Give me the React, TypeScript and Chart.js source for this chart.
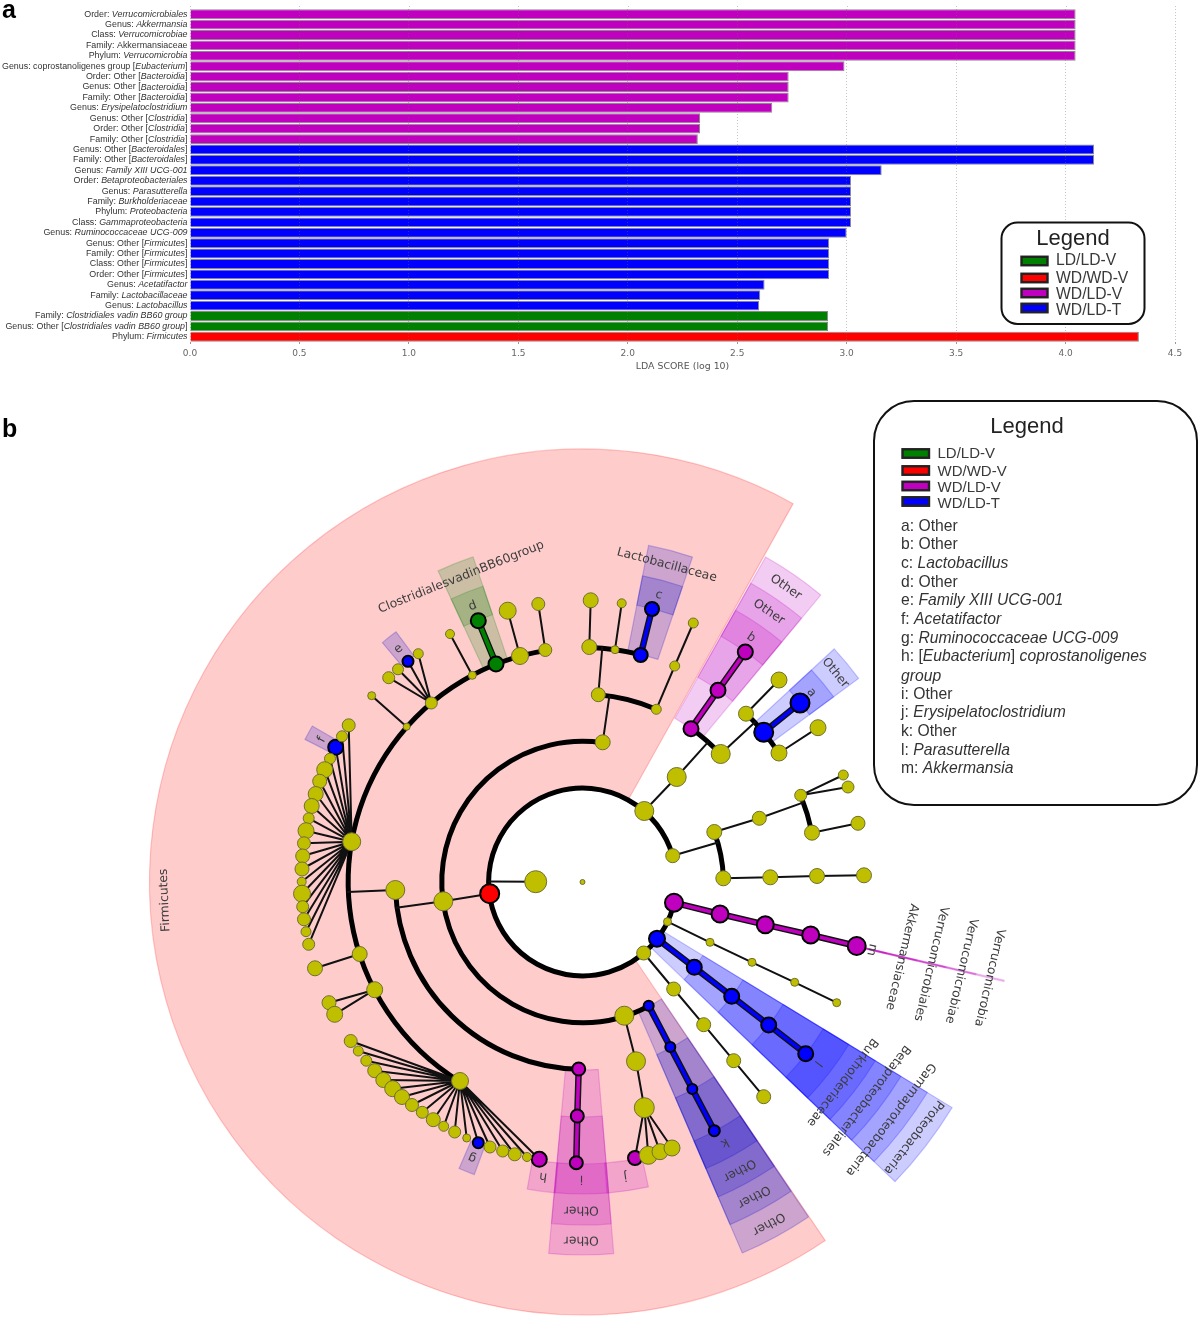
import React, { useEffect, useRef } from "react";
import { Chart, registerables } from "chart.js";

Chart.register(...registerables);

// ---------- panel a data ("|" toggles italic) ----------
const barLabels = [
  "Order: |Verrucomicrobiales", "Genus: |Akkermansia", "Class: |Verrucomicrobiae", "Family: Akkermansiaceae",
  "Phylum: |Verrucomicrobia", "Genus: coprostanoligenes group [|Eubacterium|]", "Order: Other [|Bacteroidia|]",
  "Genus: Other [|Bacteroidia|]", "Family: Other [|Bacteroidia|]", "Genus: |Erysipelatoclostridium",
  "Genus: Other [|Clostridia|]", "Order: Other [|Clostridia|]", "Family: Other [|Clostridia|]",
  "Genus: Other [|Bacteroidales|]", "Family: Other [|Bacteroidales|]", "Genus: |Family XIII UCG-001",
  "Order: |Betaproteobacteriales", "Genus: |Parasutterella", "Family: |Burkholderiaceae", "Phylum: |Proteobacteria",
  "Class: |Gammaproteobacteria", "Genus: |Ruminococcaceae UCG-009", "Genus: Other [|Firmicutes|]",
  "Family: Other [|Firmicutes|]", "Class: Other [|Firmicutes|]", "Order: Other [|Firmicutes|]",
  "Genus: |Acetatifactor", "Family: |Lactobacillaceae", "Genus: |Lactobacillus",
  "Family: |Clostridiales vadin BB60 group", "Genus: Other [|Clostridiales vadin BB60 group|]", "Phylum: |Firmicutes",
];
const barValues = [
  4.046, 4.046, 4.046, 4.046, 4.046, 2.99, 2.735, 2.735, 2.735, 2.66, 2.33, 2.33, 2.32,
  4.13, 4.13, 3.16, 3.02, 3.02, 3.02, 3.02, 3.02, 3.0, 2.92, 2.92, 2.92, 2.92, 2.625, 2.605, 2.6,
  2.915, 2.915, 4.335,
];
const barGroups = [
  "WD/LD-V", "WD/LD-V", "WD/LD-V", "WD/LD-V", "WD/LD-V", "WD/LD-V", "WD/LD-V", "WD/LD-V", "WD/LD-V", "WD/LD-V", "WD/LD-V", "WD/LD-V", "WD/LD-V",
  "WD/LD-T", "WD/LD-T", "WD/LD-T", "WD/LD-T", "WD/LD-T", "WD/LD-T", "WD/LD-T", "WD/LD-T", "WD/LD-T", "WD/LD-T", "WD/LD-T", "WD/LD-T", "WD/LD-T", "WD/LD-T", "WD/LD-T", "WD/LD-T",
  "LD/LD-V", "LD/LD-V", "WD/WD-V",
];
const groupNames = ["LD/LD-V", "WD/WD-V", "WD/LD-V", "WD/LD-T"];
const groupColors = ["#008000", "#FF0000", "#BF00BF", "#0000FF"];

// ---------- panel b data: tree nodes [id, x, y, size], origin at the tree root ----------
const yellowNodes: any[] = [
  ["root", 0, 0, 2.5], ["n01", -46.8, 0.3, 11], ["P1", 61.8, 71, 9.5], ["P2", 90.2, 26.3, 7], ["P3", 85, -39.7, 4], ["P4", 61.2, -71, 7],
  ["A2", 94.2, 105, 9.5], ["A3", 138.2, 128, 9.5], ["A4", 163.5, 168.3, 7.5], ["A5", 196.5, 129, 8], ["A6", 196.5, 202, 8], ["A7", 235.5, 154.3, 8],
  ["C1", 131.8, 50, 7.5], ["C2", 140.8, 3.7, 7.5], ["C3", 176.8, 63.7, 7], ["C4", 187.8, 4.7, 7.5], ["C5", 234.5, 6, 7.5], ["C6", 281.5, 6.7, 7.5],
  ["C7", 218.2, 86.7, 6], ["C8", 229.5, 49.3, 7.5], ["C9", 260.8, 107, 5], ["C10", 265.5, 95, 6], ["C11", 275.5, 58.7, 7],
  ["V1", 127.5, -60.3, 4], ["V2", 169.5, -80.3, 4], ["V3", 212.2, -100.3, 4], ["V4", 254.2, -120.7, 4],
  ["Y1", 91.2, -107, 7], ["Y2", 121.2, -142.7, 7], ["Y3", 151.2, -178.7, 7], ["Y4", 181.2, -214.7, 7],
  ["F2", -139.2, -19.3, 9.5], ["F3", -187.2, -8, 9.5], ["G2", 41.8, -133.7, 9.5], ["G3", 53.5, -179.3, 9.5], ["G4", 61.8, -225.7, 10],
  ["G5", 65.8, -273.3, 9], ["G6", 77.5, -269.7, 8], ["G7", 89.5, -266, 8],
  ["T2", 20.2, 139.7, 7.5], ["T3", 15.8, 187.3, 7], ["T3b", 73.8, 172.7, 5], ["T4a", 6.8, 235, 7.5], ["T4b", 32.5, 232.3, 4], ["T4c", 92.2, 216, 5],
  ["T5a", 8.2, 281.7, 7.5], ["T5b", 39.2, 278.7, 4.5], ["T5c", 110.8, 259, 5],
  ["S9", -37.2, 232, 6.5], ["S8", -62.5, 226, 8.5], ["S7", -110.2, 206.7, 4], ["S6", -151.2, 179, 6], ["S5", -175.8, 155.3, 3.5],
  ["H1", -230.8, 40.3, 9], ["S4", -222.8, -72, 7.5], ["S3", -207.8, -107.7, 8], ["H2", -122.5, -199, 8.5],
  ["L9", -44.2, 278, 6.5], ["L8", -74.8, 271.3, 8.5], ["L7", -132.5, 248, 4.5], ["E1", -164.2, 228.3, 5], ["E3", -184.5, 212.7, 5.5], ["E4", -193.8, 204.3, 6], ["L5", -210.8, 186.3, 4],
  ["Ha", -233.8, 156.7, 6.5], ["Hb", -240.5, 145.7, 5.5], ["Hc", -252.5, 123.3, 5.5], ["Hd", -257.8, 112.3, 8], ["He", -262.8, 100.7, 7], ["Hf", -266.8, 88, 7.5],
  ["Hg", -270.8, 76, 7.5], ["Hh", -273.8, 63.7, 5.5], ["Hi", -276.5, 51.3, 8], ["Hj", -278.5, 38.7, 6.5], ["Hk", -279.8, 26, 7], ["Hl", -280.5, 13, 7],
  ["Hm", -280.8, 0.3, 4.5], ["Hn", -280.5, -11.7, 8.5], ["Ho", -279.8, -24.7, 6], ["Hp", -278.5, -37.3, 6.5], ["Hq", -276.5, -49.7, 5], ["Hr", -273.8, -62.3, 6],
  ["S4a", -267.5, -86.3, 7.5], ["S3a", -253.5, -120.7, 7], ["S3b", -247.8, -132.3, 8],
  ["Ia", -231.8, -159, 6.5], ["Ib", -224.2, -169, 5], ["Ic", -216.2, -178.7, 5.5], ["Id", -207.8, -188.7, 7], ["Ie", -199.2, -198, 7.5], ["If", -189.8, -206.7, 8],
  ["Ig", -180.5, -215, 7.5], ["Ih", -170.5, -223, 6.5], ["Ii", -160.2, -230.3, 6], ["Ij", -149.2, -237.7, 7], ["Ik", -138.8, -244.3, 5], ["Il", -127.8, -250, 6],
  ["Im", -115.8, -256, 4], ["In", -92.5, -265, 6], ["Io", -79.8, -269, 6], ["Ip", -67.8, -272.3, 6.5], ["Iq", -55.5, -275, 4.5],
];
const redNodes: any[] = [["red", -92.8, -11.7, 9.5]];
const greenNodes: any[] = [["d1", -86.5, 218, 7.5], ["d2", -104.2, 261.3, 7.5]];
const magentaNodes: any[] = [
  ["b1", 108.5, 153.3, 7.5], ["b2", 135.5, 191.7, 7.5], ["b3", 162.8, 230, 7.5],
  ["m1", 91.5, -20.7, 9], ["m2", 137.5, -32, 8.5], ["m3", 182.8, -42.7, 8.5], ["m4", 228.2, -53, 8.5], ["m5", 274.2, -64, 9],
  ["i1", -3.8, -187, 6.5], ["i2", -5.2, -234, 6.5], ["i3", -6.2, -280.7, 6.5], ["j1", 52.5, -276, 7], ["h1", -43.2, -277.3, 7.5],
];
const blueNodes: any[] = [
  ["a1", 181.2, 149.7, 9.5], ["a2", 217.5, 179, 9.5], ["c1", 58.2, 227, 7], ["c2", 69.5, 273, 7],
  ["l1", 74.5, -56.7, 8], ["l2", 111.8, -85.3, 7.5], ["l3", 149.2, -114.3, 7.5], ["l4", 186.2, -143, 7.5], ["l5", 223.2, -171.7, 7.5],
  ["k1", 66.2, -123.7, 5], ["k2", 87.8, -165, 5], ["k3", 109.8, -207, 5], ["k4", 131.8, -248.7, 5.5],
  ["e1", -174.5, 220.7, 5.5], ["f1", -246.8, 134.7, 7.5], ["g1", -104.2, -260.7, 5.5],
];
const hub1Children = ["Ha", "Hb", "f1", "Hc", "Hd", "He", "Hf", "Hg", "Hh", "Hi", "Hj", "Hk", "Hl", "Hm", "Hn", "Ho", "Hp", "Hq", "Hr"];
const hub2Children = ["Ia", "Ib", "Ic", "Id", "Ie", "If", "Ig", "Ih", "Ii", "Ij", "Ik", "Il", "Im", "g1", "In", "Io", "Ip", "Iq", "h1"];
const thinEdges: any[] = [
  ["P1", "A2"], ["A4", "A6"], ["A5", "A7"], ["C1", "C3"], ["C2", "C4"], ["C4", "C5"], ["C5", "C6"], ["C7", "C9"], ["C7", "C10"], ["C8", "C11"],
  ["P3", "V1"], ["V1", "V2"], ["V2", "V3"], ["V3", "V4"], ["P4", "Y1"], ["Y1", "Y2"], ["Y2", "Y3"], ["Y3", "Y4"],
  ["red", "F2"], ["G2", "G3"], ["G3", "G4"], ["G4", "j1"], ["G4", "G5"], ["G4", "G6"], ["G4", "G7"],
  ["T3b", "T4c"], ["T4c", "T5c"], ["T4a", "T5a"], ["T4b", "T5b"],
  ["S9", "L9"], ["S8", "L8"], ["S7", "L7"], ["S6", "E1"], ["S6", "e1"], ["S6", "E3"], ["S6", "E4"], ["S5", "L5"],
  ["S4", "S4a"], ["S3", "S3a"], ["S3", "S3b"],
];
// node -> tree ring it joins, along the node's own direction
const ringEdges: any[] = [["n01", 93], ["A2", 188], ["A3", 235], ["P2", 141], ["C3", 235], ["F2", 188], ["F3", 235], ["T2", 188], ["T3", 235]];
const magentaChains = [["b1", "b2", "b3"], ["m1", "m2", "m3", "m4", "m5"], ["i1", "i2", "i3"]];
const blueChains = [["a1", "a2"], ["c1", "c2"], ["l1", "l2", "l3", "l4", "l5"], ["k1", "k2", "k3", "k4"]];
const greenChains = [["d1", "d2"]];
// ring segments: counter-clockwise from the first node to the second
const treeRings: any[] = [["P2", "m1"], ["T2", "k1"], ["A3", "b1"], ["A5", "A4"], ["C2", "C1"], ["C8", "C7"], ["T3b", "T3"], ["c1", "T4a"], ["F3", "i1"], ["S9", "H2"]];

// taxonomic rings
const levelInner = [93, 141, 188, 235, 282];
const levelOuter = [433, 404, 373, 343, 312];
const labelRadius = [418, 389, 358, 328, 297];
// clade shading: [start angle, end angle, first level, last level, colour]
const cladeSectors: any[] = [
  [60.9, 304.1, 0, 0, "255,0,0"],
  [-43.8, -31.4, 0, 4, "0,0,255"],
  [-13.28, -13.12, 0, 4, "191,0,191"],
  [293.3, 304, 1, 4, "0,0,204"],
  [50.3, 60.6, 2, 4, "191,0,191"],
  [36.4, 42.8, 3, 4, "0,0,255"],
  [71.3, 78.9, 3, 4, "0,0,204"],
  [108.6, 114.9, 3, 4, "0,128,0"],
  [126.7, 129.9, 4, 4, "0,0,204"],
  [150, 152.8, 4, 4, "0,0,204"],
  [246.7, 249.7, 4, 4, "0,0,204"],
  [259.8, 265, 4, 4, "191,0,191"],
  [264.8, 274.8, 2, 4, "191,0,191"],
  [274.5, 282.2, 4, 4, "191,0,191"],
];
// clade labels: [text, level, angle]
const cladeLabels: any[] = [
  ["Firmicutes", 0, 182.5], ["Proteobacteria", 0, -37.6], ["Gammaproteobacteria", 1, -37.6], ["Betaproteobacteriales", 2, -37.6], ["Burkholderiaceae", 3, -37.6], ["l", 4, -37.6],
  ["Verrucomicrobia", 0, -13.2], ["Verrucomicrobiae", 1, -13.2], ["Verrucomicrobiales", 2, -13.2], ["Akkermansiaceae", 3, -13.2], ["m", 4, -13.2],
  ["Other", 2, 55.4], ["Other", 3, 55.4], ["b", 4, 55.4], ["Other", 3, 39.6], ["a", 4, 39.6],
  ["Lactobacillaceae", 3, 75.1], ["c", 4, 75.1], ["ClostridialesvadinBB60group", 3, 111.7], ["d", 4, 111.7],
  ["e", 4, 128.3], ["f", 4, 151.4], ["g", 4, 248.2], ["h", 4, 262.4],
  ["Other", 2, 269.8], ["Other", 3, 269.8], ["i", 4, 269.8], ["j", 4, 278.3],
  ["Other", 1, 298.6], ["Other", 2, 298.6], ["Other", 3, 298.6], ["k", 4, 298.6],
];
const cladeKey = [
  "a: Other", "b: Other", "c: |Lactobacillus", "d: Other", "e: |Family XIII UCG-001", "f: |Acetatifactor", "g: |Ruminococcaceae UCG-009",
  "h: [|Eubacterium|] |coprostanoligenes", "|group", "i: Other", "j: |Erysipelatoclostridium", "k: Other", "l: |Parasutterella", "m: |Akkermansia",
];

const SANS = '"Liberation Sans", Arial, sans-serif';
const DEJAVU = '"DejaVu Sans", sans-serif';

function mixedText(ctx: any, text: string, size: number, x: number, y: number, align: "left" | "right") {
  const parts = text.split("|");
  const fontOf = (i: number) => `${i % 2 ? "italic " : ""}${size}px ${SANS}`;
  let total = 0;
  parts.forEach((p, i) => { ctx.font = fontOf(i); total += ctx.measureText(p).width; });
  let cx = align === "right" ? x - total : x;
  ctx.textAlign = "left";
  ctx.textBaseline = "middle";
  parts.forEach((p, i) => { ctx.font = fontOf(i); ctx.fillText(p, cx, y); cx += ctx.measureText(p).width; });
}

function drawGroupKey(ctx: any, sw: number[], swH: number, swYs: number[], textX: number, textYs: number[], size: number) {
  groupNames.forEach((name, i) => {
    ctx.fillStyle = groupColors[i];
    ctx.strokeStyle = "#222";
    ctx.lineWidth = 2.4;
    ctx.fillRect(sw[0], swYs[i] - swH / 2, sw[1], swH);
    ctx.strokeRect(sw[0], swYs[i] - swH / 2, sw[1], swH);
    ctx.fillStyle = "#3a3a3a";
    ctx.font = `${size}px ${SANS}`;
    ctx.textAlign = "left";
    ctx.textBaseline = "middle";
    ctx.fillText(name, textX, textYs[i]);
  });
}

function box(ctx: any, x: number, y: number, w: number, h: number, r: number, lw: number) {
  ctx.beginPath();
  ctx.roundRect(x, y, w, h, r);
  ctx.fillStyle = "#fff";
  ctx.fill();
  ctx.lineWidth = lw;
  ctx.strokeStyle = "#111";
  ctx.stroke();
}

const barOverlay = {
  id: "barOverlay",
  afterDraw(chart: any) {
    const { ctx, scales } = chart;
    ctx.save();
    // dotted grid stubs above the plot
    ctx.strokeStyle = "rgba(110,110,110,.4)";
    ctx.lineWidth = 1;
    ctx.setLineDash([1, 2]);
    scales.x.ticks.forEach((t: any) => {
      const px = Math.round(scales.x.getPixelForValue(t.value)) + 0.5;
      ctx.beginPath(); ctx.moveTo(px, 6); ctx.lineTo(px, chart.chartArea.top); ctx.stroke();
    });
    ctx.setLineDash([]);
    // category labels with italic runs
    ctx.fillStyle = "#333";
    barLabels.forEach((lab, i) => mixedText(ctx, lab, 8.9, 187.5, scales.y.getPixelForValue(i), "right"));
    // panel letter
    ctx.fillStyle = "#000";
    ctx.font = `bold 25px ${SANS}`;
    ctx.textAlign = "left";
    ctx.textBaseline = "alphabetic";
    ctx.fillText("a", 2, 18);
    // legend
    box(ctx, 1001.5, 222.5, 143, 101.5, 16, 2);
    ctx.fillStyle = "#222";
    ctx.font = `22px ${SANS}`;
    ctx.textAlign = "center";
    ctx.textBaseline = "middle";
    ctx.fillText("Legend", 1073, 238.5);
    drawGroupKey(ctx, [1021.5, 26], 8.5, [261, 278, 293, 308], 1056, [261, 279, 295, 311], 15.7);
    ctx.restore();
  },
};

const nodeIndex: Record<string, any> = {};
[yellowNodes, redNodes, greenNodes, magentaNodes, blueNodes].forEach((list) =>
  list.forEach((n) => { nodeIndex[n[0]] = { x: n[1], y: n[2], r: n[3] }; }));
const gap = { x: NaN, y: NaN };
const toPoint = (n: any) => ({ x: nodeIndex[n].x, y: nodeIndex[n].y });
const thinData: any[] = [];
thinEdges.forEach(([a, b]) => thinData.push(toPoint(a), toPoint(b), gap));
hub1Children.forEach((c) => thinData.push(toPoint("H1"), toPoint(c), gap));
hub2Children.forEach((c) => thinData.push(toPoint("H2"), toPoint(c), gap));
ringEdges.forEach(([a, ring]) => {
  const p = toPoint(a);
  const len = Math.hypot(p.x, p.y);
  thinData.push(p, { x: (p.x / len) * ring, y: (p.y / len) * ring }, gap);
});
const chainData = (chains: string[][]) => {
  const out: any[] = [];
  chains.forEach((c) => { c.forEach((n) => out.push(toPoint(n))); out.push(gap); });
  return out;
};
const toBubble = (list: any[]) => list.map((n) => ({ x: n[1], y: n[2], r: n[3] }));

const cladogramOverlay = {
  id: "cladogramOverlay",
  beforeDatasetsDraw(chart: any) {
    const { ctx, scales } = chart;
    const cx = scales.x.getPixelForValue(0);
    const cy = scales.y.getPixelForValue(0);
    const unit = (v: number) => scales.x.getPixelForValue(v) - cx;
    const rad = (d: number) => (-d * Math.PI) / 180;
    ctx.save();
    cladeSectors.forEach(([a0, a1, first, last, col]) => {
      for (let l = first; l <= last; l++) {
        ctx.beginPath();
        ctx.arc(cx, cy, unit(levelOuter[l]), rad(a0), rad(a1), true);
        ctx.arc(cx, cy, unit(levelInner[l]), rad(a1), rad(a0), false);
        ctx.closePath();
        ctx.fillStyle = `rgba(${col},.2)`;
        ctx.fill();
        ctx.strokeStyle = `rgba(${col},.22)`;
        ctx.lineWidth = 1.2;
        ctx.stroke();
      }
    });
    ctx.strokeStyle = "#000";
    ctx.lineWidth = 5;
    ctx.lineCap = "butt";
    treeRings.forEach(([a, b]) => {
      const p = nodeIndex[a];
      const q = nodeIndex[b];
      const r = (Math.hypot(p.x, p.y) + Math.hypot(q.x, q.y)) / 2;
      ctx.beginPath();
      ctx.arc(cx, cy, unit(r), Math.atan2(-p.y, p.x), Math.atan2(-q.y, q.x), true);
      ctx.stroke();
    });
    ctx.restore();
  },
  afterDatasetsDraw(chart: any) {
    const { ctx, scales } = chart;
    ctx.save();
    ctx.fillStyle = "#3c3c3c";
    ctx.font = `12.3px ${DEJAVU}`;
    ctx.textAlign = "center";
    ctx.textBaseline = "middle";
    cladeLabels.forEach(([txt, lvl, ang]) => {
      const r = labelRadius[lvl];
      const t = (ang * Math.PI) / 180;
      ctx.save();
      ctx.translate(scales.x.getPixelForValue(r * Math.cos(t)), scales.y.getPixelForValue(r * Math.sin(t)));
      ctx.rotate(((90 - ang) * Math.PI) / 180);
      ctx.fillText(txt, 0, 0);
      ctx.restore();
    });
    ctx.restore();
  },
  afterDraw(chart: any) {
    const { ctx } = chart;
    ctx.save();
    ctx.fillStyle = "#000";
    ctx.font = `bold 25px ${SANS}`;
    ctx.textAlign = "left";
    ctx.textBaseline = "alphabetic";
    ctx.fillText("b", 2, 57);
    // legend (canvas starts 380px down the page)
    box(ctx, 874, 21, 323, 404, 40, 2);
    ctx.fillStyle = "#222";
    ctx.font = `22px ${SANS}`;
    ctx.textAlign = "center";
    ctx.textBaseline = "middle";
    ctx.fillText("Legend", 1027, 47);
    drawGroupKey(ctx, [902.5, 26.5], 8.5, [73.5, 90.5, 106, 121.5], 937.5, [74, 92, 108, 124], 15);
    ctx.fillStyle = "#333";
    const rows = [147, 165, 184, 203, 221, 240, 259, 277, 297, 315, 333, 352, 371, 389];
    cladeKey.forEach((t, i) => mixedText(ctx, t, 15.7, 901, rows[i], "left"));
    ctx.restore();
  },
};

export default function App() {
  const barRef = useRef<HTMLCanvasElement>(null);
  const treeRef = useRef<HTMLCanvasElement>(null);

  useEffect(() => {
    const barChart = new Chart(barRef.current as any, {
      type: "bar",
      data: {
        labels: barLabels.map((l) => l.replace(/\|/g, "")),
        datasets: [{
          label: "LDA score",
          data: barValues,
          backgroundColor: barGroups.map((g) => groupColors[groupNames.indexOf(g)]),
          borderColor: "#8a8a8a",
          borderWidth: 1,
          barPercentage: 0.95,
          categoryPercentage: 1,
        }],
      },
      options: {
        indexAxis: "y",
        responsive: false,
        animation: false,
        layout: { padding: { left: 190, right: 25, top: 9, bottom: 0 } },
        plugins: { legend: { display: false }, tooltip: { enabled: false }, title: { display: false } },
        scales: {
          x: {
            type: "linear",
            min: 0,
            max: 4.5,
            afterFit: (s: any) => { s.height = 38; },
            border: { display: false, dash: [1, 2] },
            grid: { color: "rgba(110,110,110,.4)", z: 1, tickLength: 2, tickColor: "#999", lineWidth: 1 },
            ticks: {
              stepSize: 0.5,
              callback: (v: any) => Number(v).toFixed(1),
              font: { family: "DejaVu Sans", size: 9 },
              color: "#666",
              padding: 4,
              maxRotation: 0,
            },
            title: { display: true, text: "LDA SCORE (log 10)", font: { family: "DejaVu Sans", size: 9.4 }, color: "#555", padding: { top: 0, bottom: 8 } },
          },
          y: {
            type: "category",
            afterFit: (s: any) => { s.width = 0; },
            border: { display: false },
            grid: { display: false },
            ticks: { display: false },
          },
        },
      } as any,
      plugins: [barOverlay],
    });

    const lineDs = (label: string, data: any[], color: string, width: number, order: number) => ({
      type: "scatter",
      label,
      data,
      showLine: true,
      spanGaps: false,
      borderColor: color,
      borderWidth: width,
      pointRadius: 0,
      order,
      borderCapStyle: "round",
    });
    const nodeDs = (label: string, list: any[], color: string, edge: string, width: number) => ({
      type: "bubble",
      label,
      data: toBubble(list),
      backgroundColor: color,
      borderColor: edge,
      borderWidth: width,
      order: 1,
    });
    const allChains = [...magentaChains, ...blueChains, ...greenChains];
    const treeChart = new Chart(treeRef.current as any, {
      type: "bubble",
      data: {
        datasets: [
          lineDs("edges", thinData, "#111", 2, 9),
          lineDs("outline", chainData(allChains), "#111", 6.5, 8),
          lineDs("WD/LD-V edges", chainData(magentaChains), "#BF00BF", 3.6, 7),
          lineDs("WD/LD-T edges", chainData(blueChains), "#0000FF", 3.6, 7),
          lineDs("LD/LD-V edges", chainData(greenChains), "#008000", 4, 7),
          nodeDs("taxa", yellowNodes, "#BFBF00", "#6f6f30", 1),
          nodeDs("WD/WD-V", redNodes, "#FF0000", "#000", 2),
          nodeDs("LD/LD-V", greenNodes, "#008000", "#000", 2),
          nodeDs("WD/LD-V", magentaNodes, "#BF00BF", "#000", 2),
          nodeDs("WD/LD-T", blueNodes, "#0000FF", "#000", 2),
        ] as any,
      },
      options: {
        responsive: false,
        animation: false,
        layout: { padding: 0, autoPadding: false },
        plugins: { legend: { display: false }, tooltip: { enabled: false } },
        scales: {
          x: { type: "linear", display: false, min: -582.5, max: 617.5 },
          y: { type: "linear", display: false, min: -436, max: 502 },
        },
      } as any,
      plugins: [cladogramOverlay],
    });
    return () => { barChart.destroy(); treeChart.destroy(); };
  }, []);

  const blur = "blur(0.45px)";
  return (
    <div style={{ position: "absolute", left: 0, top: 0, width: 1200, height: 1318, background: "#fff", overflow: "hidden" }}>
      <canvas ref={barRef} width={1200} height={380} style={{ position: "absolute", left: 0, top: 0, filter: blur }} />
      <canvas ref={treeRef} width={1200} height={938} style={{ position: "absolute", left: 0, top: 380, filter: blur }} />
    </div>
  );
}
